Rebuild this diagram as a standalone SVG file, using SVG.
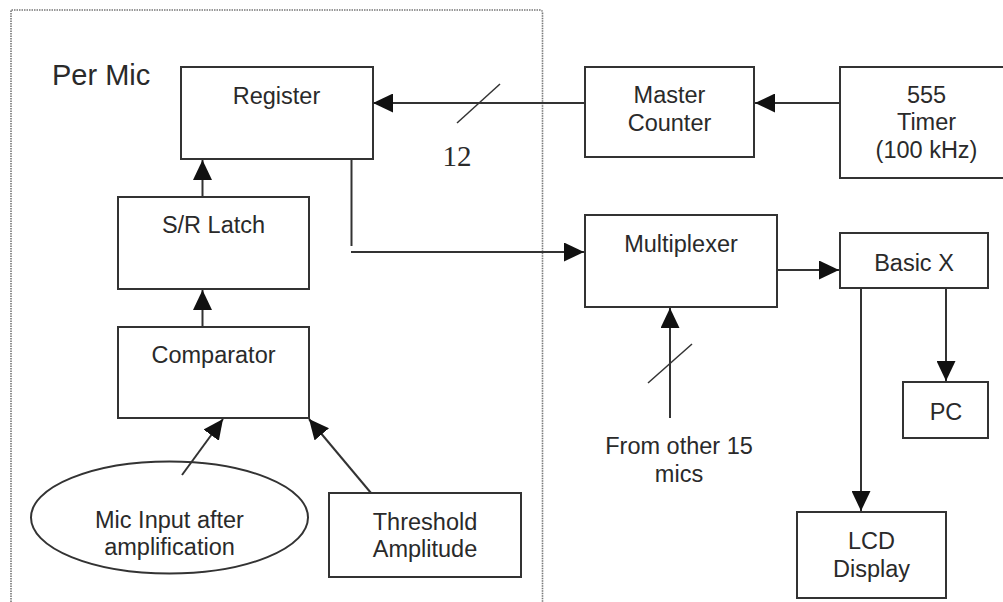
<svg xmlns="http://www.w3.org/2000/svg" width="1003" height="602" viewBox="0 0 1003 602">
<defs>
<marker id="ah" markerUnits="userSpaceOnUse" markerWidth="20" markerHeight="19" refX="20" refY="9.5" orient="auto">
<path d="M0,0 L20,9.5 L0,19 z" fill="#111"/>
</marker>
<style>
.box{fill:#fff;stroke:#333;stroke-width:2}
.t{font-family:"Liberation Sans",Arial,sans-serif;font-size:23.5px;fill:#2a2a2a;text-anchor:middle}
.ln{stroke:#333;stroke-width:2;fill:none}
.arr{stroke:#333;stroke-width:2;fill:none;marker-end:url(#ah)}
.tick{stroke:#333;stroke-width:1.5}
</style>
</defs>
<rect x="0" y="0" width="1003" height="602" fill="#fff"/>
<g id="per-mic-region">
<path d="M11,602 L11,10 L540,10 Q542.5,10 542.5,13 L542.5,602" fill="none" stroke="#777" stroke-width="1.6" stroke-dasharray="1.5,1"/>
<text x="52" y="85" style="font-family:'Liberation Sans',Arial,sans-serif;font-size:29px;fill:#2a2a2a">Per Mic</text>
</g>
<g id="register">
<rect class="box" x="181" y="67" width="192" height="92"/>
<text class="t" x="276.5" y="104">Register</text>
</g>
<g id="sr-latch">
<rect class="box" x="118" y="197" width="191" height="92"/>
<text class="t" x="213.5" y="233">S/R Latch</text>
</g>
<g id="comparator">
<rect class="box" x="118" y="327" width="191" height="91"/>
<text class="t" x="213.5" y="363">Comparator</text>
</g>
<g id="mic-input">
<ellipse class="box" cx="169.5" cy="517.5" rx="138.5" ry="56"/>
<text class="t" x="169.5" y="528">Mic Input after</text>
<text class="t" x="169.5" y="555">amplification</text>
</g>
<g id="threshold">
<rect class="box" x="329" y="493" width="192" height="84"/>
<text class="t" x="425" y="530">Threshold</text>
<text class="t" x="425" y="557">Amplitude</text>
</g>
<g id="master-counter">
<rect class="box" x="585" y="67" width="169" height="90"/>
<text class="t" x="669.5" y="103">Master</text>
<text class="t" x="669.5" y="131">Counter</text>
</g>
<g id="timer">
<rect class="box" x="840" y="67" width="173" height="111"/>
<text class="t" x="926.5" y="103">555</text>
<text class="t" x="926.5" y="130">Timer</text>
<text class="t" x="926.5" y="158">(100 kHz)</text>
</g>
<g id="multiplexer">
<rect class="box" x="585" y="215" width="192" height="92"/>
<text class="t" x="681" y="252">Multiplexer</text>
</g>
<g id="basic-x">
<rect class="box" x="840" y="233" width="148" height="55"/>
<text class="t" x="914" y="271">Basic X</text>
</g>
<g id="pc">
<rect class="box" x="903" y="382" width="85" height="56"/>
<text class="t" x="946" y="420">PC</text>
</g>
<g id="lcd-display">
<rect class="box" x="797" y="512" width="149" height="86"/>
<text class="t" x="871.5" y="549">LCD</text>
<text class="t" x="871.5" y="577">Display</text>
</g>
<g id="connectors">
<line class="arr" x1="585" y1="103" x2="373" y2="103"/>
<line class="tick" x1="457" y1="123" x2="500" y2="84"/>
<text x="457" y="166" style="font-family:'Liberation Serif','Times New Roman',serif;font-size:29px;fill:#2a2a2a;text-anchor:middle">12</text>
<line class="arr" x1="840" y1="103" x2="755" y2="103"/>
<line class="ln" x1="351.5" y1="159" x2="351.5" y2="246"/>
<line class="arr" x1="351" y1="252" x2="584" y2="252"/>
<line class="arr" x1="202.5" y1="197" x2="202.5" y2="160"/>
<line class="arr" x1="202.5" y1="327" x2="202.5" y2="290"/>
<line class="arr" x1="182" y1="475" x2="223" y2="419"/>
<line class="arr" x1="371" y1="493" x2="309" y2="419"/>
<line class="arr" x1="777" y1="270" x2="839" y2="270"/>
<line class="arr" x1="670" y1="418" x2="670" y2="308"/>
<line class="tick" x1="648" y1="383" x2="692" y2="344"/>
<line class="arr" x1="946" y1="288" x2="946" y2="381"/>
<line class="arr" x1="861" y1="288" x2="861" y2="511"/>
<text class="t" x="679" y="454">From other 15</text>
<text class="t" x="679" y="482">mics</text>
</g>
</svg>
